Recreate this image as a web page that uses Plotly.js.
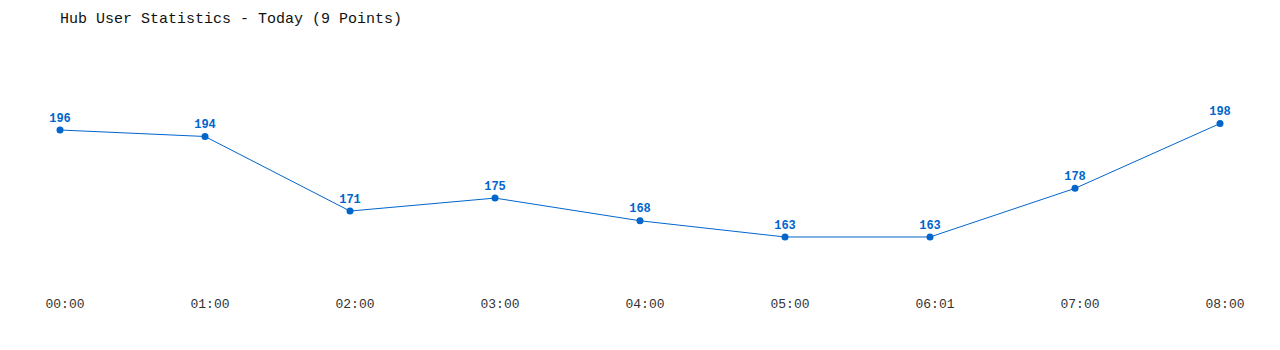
<!DOCTYPE html>
<html>
<head>
<meta charset="utf-8">
<script src="https://cdn.plot.ly/plotly-3.0.1.min.js"></script>
<style>html,body{margin:0;padding:0;background:#fff;}#chart{width:1280px;height:350px;}</style>
</head>
<body>
<div id="chart"></div>
<script>
var timeLabels = ["00:00","01:00","02:00","03:00","04:00","05:00","06:01","07:00","08:00"];
var userCounts = [196, 194, 171, 175, 168, 163, 163, 178, 198];
var chartTitle = "Hub User Statistics - Today (9 Points)";

var xIdx = timeLabels.map(function(_, i){ return i; });

var trace = {
  x: xIdx,
  y: userCounts,
  type: 'scatter',
  mode: 'lines+markers+text',
  line: {color: '#0066cc', width: 1},
  marker: {color: '#0066cc', size: 7},
  text: userCounts.map(String),
  textposition: 'top center',
  textfont: {family: 'Liberation Mono, DejaVu Sans Mono, monospace', size: 12, color: '#0066cc', weight: 'bold'},
  hoverinfo: 'x+y',
  cliponaxis: false
};

var layout = {
  width: 1280, height: 350,
  paper_bgcolor: '#fff', plot_bgcolor: '#fff',
  margin: {l: 20, r: 20, t: 50, b: 60},
  showlegend: false,
  title: {
    text: chartTitle,
    x: 60/1280, xanchor: 'left', xref: 'container',
    y: 1 - 18/350, yanchor: 'middle', yref: 'container',
    font: {family: 'Liberation Mono, DejaVu Sans Mono, monospace', size: 15, color: '#111'}
  },
  xaxis: {
    range: [-40/145, 8 + 40/145],
    tickvals: xIdx,
    ticktext: timeLabels,
    showgrid: false, zeroline: false, showline: false,
    ticks: '', ticklabelshift: 5, ticklabelstandoff: 4,
    tickfont: {family: 'Liberation Mono, DejaVu Sans Mono, monospace', size: 13, color: '#333'},
    fixedrange: true
  },
  yaxis: {
    range: [146.65, 220.68],
    visible: false, showgrid: false, zeroline: false,
    fixedrange: true
  }
};

Plotly.newPlot('chart', [trace], layout, {displayModeBar: false, staticPlot: true});
</script>
</body>
</html>
